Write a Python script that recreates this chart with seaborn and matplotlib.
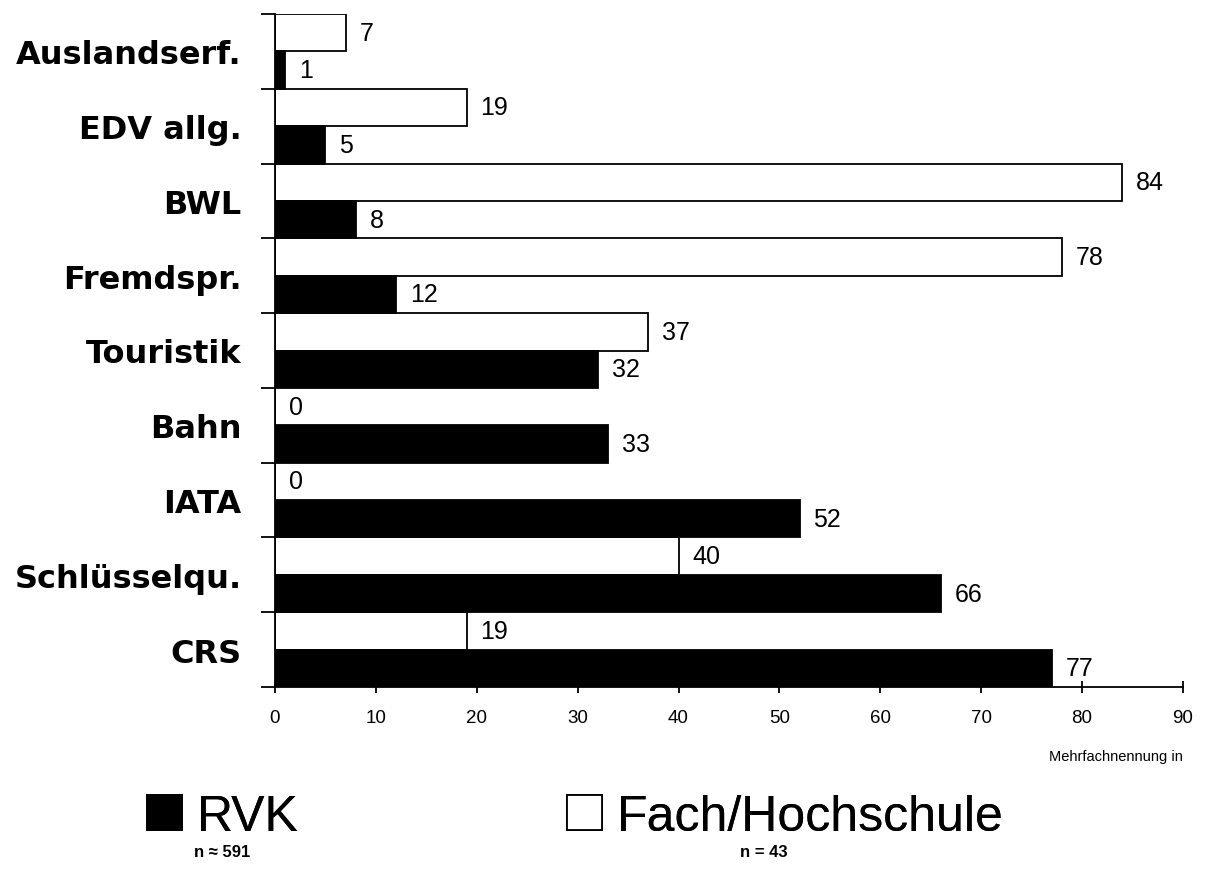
import numpy as np
import pandas as pd
import seaborn as sns
import matplotlib.pyplot as plt
from matplotlib.patches import Patch

# data (top to bottom)
categories = ['Auslandserf.', 'EDV allg.', 'BWL', 'Fremdspr.', 'Touristik',
              'Bahn', 'IATA', 'Schlüsselqu.', 'CRS']
rvk_values = [1, 5, 8, 12, 32, 33, 52, 66, 77]
fach_values = [7, 19, 84, 78, 37, 0, 0, 40, 19]
groups = ['Fach/Hochschule', 'RVK']
group_colors = {'Fach/Hochschule': 'white', 'RVK': 'black'}
group_n = {'RVK': 'n \u2248 591', 'Fach/Hochschule': 'n = 43'}
x_ticks = list(range(0, 91, 10))

df = pd.DataFrame({'Kategorie': categories * 2,
                   'Wert': fach_values + rvk_values,
                   'Gruppe': [groups[0]] * len(categories) + [groups[1]] * len(categories)})

sns.set_style('white')
plt.rcParams['font.family'] = ['Liberation Sans', 'DejaVu Sans']
for key in ['text.color', 'axes.labelcolor', 'xtick.color', 'ytick.color', 'axes.edgecolor']:
    plt.rcParams[key] = 'black'

fig = plt.figure(figsize=(12.08, 8.7), dpi=100)
ax = fig.add_axes([275 / 1208, 1 - 688 / 870, 908 / 1208, 673 / 870])

sns.barplot(data=df, y='Kategorie', x='Wert', hue='Gruppe', hue_order=groups, order=categories,
            palette=group_colors, width=1.0, dodge=True, edgecolor='black', linewidth=1.3,
            legend=False, orient='h', ax=ax)

for c in ax.containers:
    ax.bar_label(c, padding=10, fontsize=18)

ax.set_xlim(0, 90)
ax.set_xticks(x_ticks)
ax.set_ylim(len(categories) - 0.5, -0.5)
ax.set_yticks(np.arange(-0.5, len(categories), 1), minor=True)
ax.tick_params(axis='y', which='major', length=0, pad=24)
ax.tick_params(axis='y', which='minor', left=True, length=10, width=1.3)
ax.tick_params(axis='x', bottom=True, direction='inout', length=9, width=1.3, labelsize=13.5, pad=11)
for lbl in ax.get_yticklabels():
    lbl.set_fontweight('bold')
    lbl.set_family(['DejaVu Sans'])
    lbl.set_fontsize(23)
ax.set_xlabel('')
ax.set_ylabel('')
sns.despine(ax=ax)
for s in ['left', 'bottom']:
    ax.spines[s].set_linewidth(1.3)

fig.text(1183 / 1208, 1 - 757 / 870, 'Mehrfachnennung in', ha='right', va='center', fontsize=10.5)

# legend: one block per group with the sample size underneath
leg_x = {'RVK': 147 / 1208, 'Fach/Hochschule': 567 / 1208}
n_x = {'RVK': 222 / 1208, 'Fach/Hochschule': 764 / 1208}
for g in ['RVK', 'Fach/Hochschule']:
    leg = fig.legend(handles=[Patch(facecolor=group_colors[g], edgecolor='black', linewidth=1.3)],
                     labels=[g], loc='center left', bbox_to_anchor=(leg_x[g], 1 - 818 / 870),
                     frameon=False, fontsize=36, handlelength=0.7, handleheight=0.7,
                     handletextpad=0.3, borderpad=0, borderaxespad=0)
    fig.add_artist(leg)
    fig.text(n_x[g], 1 - 853 / 870, group_n[g], ha='center', va='center',
             fontsize=12, fontweight='bold')

fig.savefig('out.png', dpi=100)
